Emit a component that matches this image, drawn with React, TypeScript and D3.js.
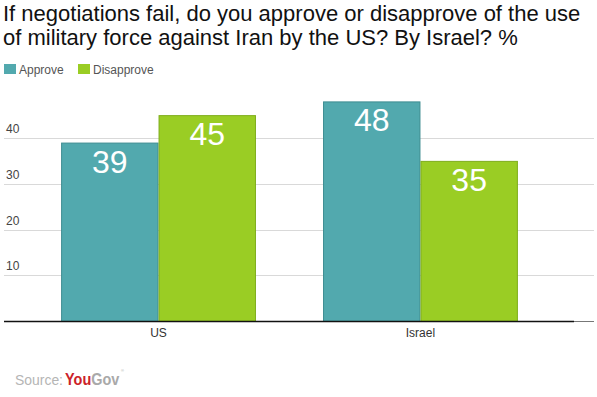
import React, { useRef, useEffect } from "react";
import * as d3 from "d3";

const categories = ["US", "Israel"];
const seriesNames = ["Approve", "Disapprove"];
const approve = [39, 48];
const disapprove = [45, 35];
const yTicks = [10, 20, 30, 40];
const titleLines = [
  "If negotiations fail, do you approve or disapprove of the use",
  "of military force against Iran by the US? By Israel? %",
];

const colors = ["#52a9ae", "#9acd24"];
const strokes = ["#3f8d92", "#7fae1c"];

const App = () => {
  const svgRef = useRef<SVGSVGElement>(null);

  useEffect(() => {
    const svg = d3.select(svgRef.current);
    svg.selectAll("*").remove();
    const width = 597;
    const height = 397;
    const font = "'Liberation Sans', Arial, sans-serif";

    svg.attr("width", width).attr("height", height).style("font-family", font);
    svg.append("rect").attr("width", width).attr("height", height).attr("fill", "#fff");

    // title
    svg
      .append("g")
      .selectAll("text")
      .data(titleLines)
      .enter()
      .append("text")
      .attr("x", 3)
      .attr("y", (d, i) => 21 + i * 23.5)
      .style("font-size", "22px")
      .style("fill", "#111")
      .text((d) => d);

    // legend
    const legend = svg
      .append("g")
      .selectAll("g")
      .data(seriesNames)
      .enter()
      .append("g")
      .attr("transform", (d, i) => `translate(${4 + i * 74},64)`);
    legend
      .append("rect")
      .attr("width", 12)
      .attr("height", 10)
      .attr("fill", (d, i) => colors[i]);
    legend
      .append("text")
      .attr("x", 15)
      .attr("y", 9.5)
      .style("font-size", "12px")
      .style("fill", "#555")
      .text((d) => d);

    const y = d3.scaleLinear().domain([0, 40]).range([321, 138]);
    const x = d3
      .scaleBand()
      .domain(categories)
      .range([4, 575])
      .paddingInner(0.256)
      .paddingOuter(0.218);
    const xs = d3
      .scaleBand()
      .domain(seriesNames)
      .range([0, x.bandwidth()]);

    // grid
    const grid = svg.append("g");
    grid
      .selectAll("line")
      .data(yTicks)
      .enter()
      .append("line")
      .attr("x1", 4)
      .attr("x2", 594)
      .attr("y1", (d) => Math.round(y(d)) + 0.5)
      .attr("y2", (d) => Math.round(y(d)) + 0.5)
      .attr("stroke", "#d9d9d9")
      .attr("stroke-width", 1);
    grid
      .selectAll("text")
      .data(yTicks)
      .enter()
      .append("text")
      .attr("x", 6)
      .attr("y", (d) => y(d) - 5)
      .style("font-size", "12px")
      .style("fill", "#444")
      .text((d) => d);

    // bars
    const rows = categories.map((c, i) => ({
      cat: c,
      vals: [approve[i], disapprove[i]],
    }));
    const groups = svg
      .append("g")
      .selectAll("g")
      .data(rows)
      .enter()
      .append("g")
      .attr("transform", (d) => `translate(${x(d.cat)},0)`);

    groups
      .selectAll("rect")
      .data((d) => d.vals)
      .enter()
      .append("rect")
      .attr("x", (d, i) => xs(seriesNames[i]) + 0.5)
      .attr("y", (d) => y(d) + 0.5)
      .attr("width", xs.bandwidth() - 1)
      .attr("height", (d) => y(0) - y(d))
      .attr("fill", (d, i) => colors[i])
      .attr("stroke", (d, i) => strokes[i])
      .attr("stroke-width", 1);

    groups
      .selectAll("text")
      .data((d) => d.vals)
      .enter()
      .append("text")
      .attr("x", (d, i) => xs(seriesNames[i]) + xs.bandwidth() / 2)
      .attr("y", (d) => y(d) + 30)
      .attr("text-anchor", "middle")
      .style("font-size", "32px")
      .style("fill", "#fff")
      .text((d) => d);

    // baseline
    svg
      .append("line")
      .attr("x1", 4)
      .attr("x2", 574)
      .attr("y1", 321.5)
      .attr("y2", 321.5)
      .attr("stroke", "#111")
      .attr("stroke-width", 1.5);
    svg
      .append("line")
      .attr("x1", 574)
      .attr("x2", 594)
      .attr("y1", 321.5)
      .attr("y2", 321.5)
      .attr("stroke", "#777")
      .attr("stroke-width", 1);

    // category labels
    svg
      .append("g")
      .selectAll("text")
      .data(categories)
      .enter()
      .append("text")
      .attr("x", (d) => x(d) + x.bandwidth() / 2)
      .attr("y", 337)
      .attr("text-anchor", "middle")
      .style("font-size", "12px")
      .style("fill", "#333")
      .text((d) => d);

    // source
    svg
      .append("text")
      .attr("x", 15)
      .attr("y", 385)
      .attr("textLength", 48)
      .attr("lengthAdjust", "spacingAndGlyphs")
      .style("font-size", "15px")
      .style("fill", "#b5b5b5")
      .text("Source:");
    const logo = svg
      .append("g")
      .attr("transform", "translate(65,385) scale(0.85,1)")
      .append("text")
      .style("font-size", "17px")
      .style("font-weight", "bold");
    logo.append("tspan").style("fill", "#cc2229").text("You");
    logo.append("tspan").style("fill", "#a9a9a9").text("Gov");
    svg
      .append("text")
      .attr("x", 121)
      .attr("y", 372)
      .style("fill", "#aaa")
      .style("font-size", "4px")
      .text("®");
  }, []);

  return (
    <svg
      ref={svgRef}
      style={{ display: "block", position: "absolute", left: 0, top: 0 }}
    ></svg>
  );
};

export default App;
